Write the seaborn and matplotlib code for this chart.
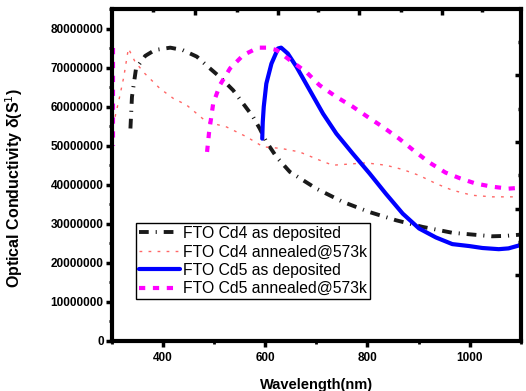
import matplotlib
matplotlib.use("Agg")
import matplotlib.pyplot as plt
import seaborn as sns
import pandas as pd
import numpy as np

# ---------------- data ----------------
cd4_dep_x = [336, 339, 347, 365, 384, 414, 438, 466, 488, 511, 537, 576, 589, 602, 622, 648,
             700, 752, 804, 856, 908, 966, 1018, 1044, 1070, 1098]
cd4_dep_y = [54.4, 62.5, 69.8, 73.0, 74.5, 75.1, 74.5, 72.8, 70.2, 67.6, 64.2, 57.4, 54.4, 51.0,
             47.1, 43.3, 39.0, 35.6, 33.0, 30.9, 29.2, 27.7, 27.1, 26.8, 26.9, 27.2]

cd4_ann_x = [306, 314, 323, 332, 345, 364, 394, 420, 446, 485, 524, 563, 596, 631, 667, 706,
             732, 765, 797, 836, 869, 901, 934, 966, 1005, 1044, 1096]
cd4_ann_y = [57.4, 62.0, 67.6, 74.9, 71.5, 68.5, 64.6, 62.1, 60.4, 56.1, 54.8, 52.3, 49.7, 49.3,
             48.4, 46.3, 45.0, 45.3, 45.6, 45.0, 43.9, 42.4, 40.3, 38.6, 37.3, 36.9, 36.9]

cd5_dep_x = [594, 595, 597, 602, 612, 625, 631, 644, 661, 687, 713, 739, 771, 804, 836, 869,
             901, 934, 966, 999, 1025, 1057, 1076, 1098]
cd5_dep_y = [51.8, 56.0, 60.0, 65.9, 71.0, 74.9, 75.1, 73.6, 70.2, 64.2, 58.2, 53.1, 48.0, 42.9,
             37.7, 32.6, 28.8, 26.5, 24.8, 24.3, 23.8, 23.5, 23.7, 24.5]

cd5_ann_x = [486, 490, 498, 511, 531, 557, 586, 602, 622, 648, 680, 706, 739, 771, 800, 830,
             862, 891, 921, 953, 982, 1012, 1044, 1076, 1096]
cd5_ann_y = [48.4, 53.5, 60.8, 65.5, 69.8, 73.2, 75.1, 75.1, 74.5, 71.9, 68.9, 65.5, 62.5, 60.0,
             57.4, 54.8, 51.8, 48.7, 45.7, 43.1, 41.6, 40.3, 39.5, 39.0, 39.2]
# short segment of the Cd5 annealed trace seen on the left edge
cd5_ann_edge_x = [301, 301]
cd5_ann_edge_y = [75.0, 50.0]

labels = ["FTO Cd4 as deposited", "FTO Cd4 annealed@573k",
          "FTO Cd5 as deposited", "FTO Cd5 annealed@573k"]
x_ticks = [400, 600, 800, 1000]
y_ticks = [0, 10, 20, 30, 40, 50, 60, 70, 80]

# ---------------- style ----------------
sns.set_style("ticks")
plt.rcParams["font.family"] = ["Liberation Sans", "DejaVu Sans"]
plt.rcParams["lines.scale_dashes"] = False
for k in ["axes.edgecolor", "xtick.color", "ytick.color", "axes.labelcolor", "text.color"]:
    plt.rcParams[k] = "black"

fig = plt.figure(figsize=(5.26, 3.91), dpi=100)
ax = fig.add_axes([0.213, 0.128, 0.777, 0.849])

def df(x, y):
    return pd.DataFrame({"x": x, "y": np.array(y) * 1e6})

sns.lineplot(data=df(cd4_dep_x, cd4_dep_y), x="x", y="y", ax=ax, sort=False, estimator=None,
             color="#1a1a1a", lw=2.8, label=labels[0])
sns.lineplot(data=df(cd4_ann_x, cd4_ann_y), x="x", y="y", ax=ax, sort=False, estimator=None,
             color="#ff6666", lw=1.0, label=labels[1])
sns.lineplot(data=df(cd5_dep_x, cd5_dep_y), x="x", y="y", ax=ax, sort=False, estimator=None,
             color="#0000ff", lw=3.0, label=labels[2])
sns.lineplot(data=df(cd5_ann_x, cd5_ann_y), x="x", y="y", ax=ax, sort=False, estimator=None,
             color="#ff00ff", lw=3.0, label=labels[3])
sns.lineplot(data=df(cd5_ann_edge_x, cd5_ann_edge_y), x="x", y="y", ax=ax, sort=False,
             estimator=None, color="#ff00ff", lw=3.0, legend=False)

lines = ax.get_lines()
lines[0].set_dashes((7, 5, 0.8, 5))
lines[1].set_dashes((2.0, 4.5))
lines[3].set_dashes((4.5, 5.5))
lines[4].set_dashes((4.5, 5.5))

ax.set_xlim(300, 1100)
ax.set_ylim(0, 85e6)
ax.set_xticks(x_ticks)
ax.set_xticks([300, 500, 700, 900, 1100], minor=True)
ax.set_yticks([v * 1e6 for v in y_ticks])
ax.set_yticks([v * 1e6 + 5e6 for v in y_ticks], minor=True)
ax.set_yticklabels([str(int(v * 1e6)) for v in y_ticks])
ax.tick_params(which="major", direction="out", length=4, width=2.5, labelsize=8.5)
ax.tick_params(axis="x", which="major", pad=4)
ax.tick_params(axis="y", which="major", pad=2)
ax.tick_params(which="minor", direction="out", length=2, width=2.0)
for lab in ax.get_xticklabels() + ax.get_yticklabels():
    lab.set_fontweight("bold")
for sp in ax.spines.values():
    sp.set_linewidth(3.0)
    sp.set_visible(True)

ax.set_xlabel("Wavelength(nm)", fontsize=10.5, fontweight="bold", labelpad=10)
ax.set_ylabel("Optical Conductivity δ(S$^{1}$)", fontsize=11.5, fontweight="bold")
ax.yaxis.set_label_coords(-0.213, 0.46)

# top / right inner ticks
axt = ax.twiny()
axt.set_xlim(ax.get_xlim())
axt.set_xticks([462, 624, 783, 945])
axt.set_xticks([380, 544, 703, 865, 1025], minor=True)
axt.set_xticklabels([])
axt.tick_params(which="both", direction="in", width=2.5)
axt.tick_params(which="major", length=4)
axt.tick_params(which="minor", length=2)
for sp in axt.spines.values():
    sp.set_visible(False)
axr = ax.twinx()
axr.set_ylim(ax.get_ylim())
axr.set_yticks([68.1e6, 51.0e6, 33.9e6, 16.8e6])
axr.set_yticks([76.6e6, 59.5e6, 42.4e6, 25.4e6], minor=True)
axr.set_yticklabels([])
axr.tick_params(which="both", direction="in", width=2.5)
axr.tick_params(which="major", length=4)
axr.tick_params(which="minor", length=2)
for sp in axr.spines.values():
    sp.set_visible(False)

leg = ax.legend(loc="lower left", bbox_to_anchor=(0.058, 0.125), fontsize=11.3,
                frameon=True, fancybox=False, edgecolor="black", framealpha=1,
                handlelength=2.6, handletextpad=0.2, labelspacing=0.22,
                borderpad=0.2, borderaxespad=0)
leg.get_frame().set_linewidth(1.0)

fig.savefig("out.png", dpi=100)
